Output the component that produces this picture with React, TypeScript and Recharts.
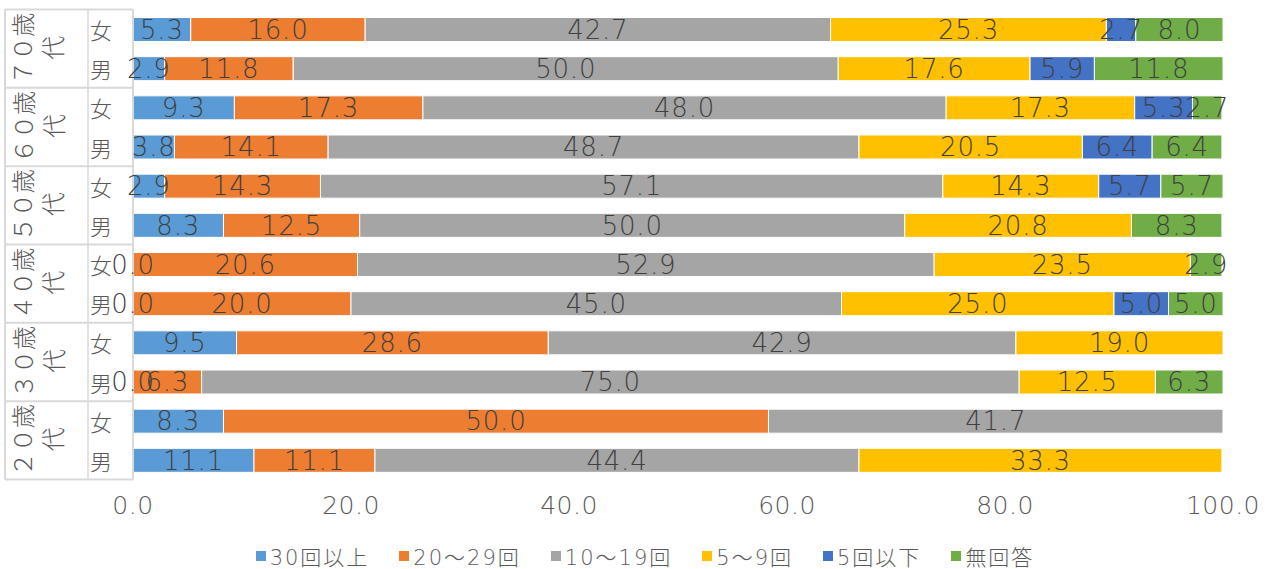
import React from 'react';
import { BarChart, Bar, XAxis, YAxis, LabelList, Legend } from 'recharts';

const ageGroups = ['７０歳代', '６０歳代', '５０歳代', '４０歳代', '３０歳代', '２０歳代'];
const genders = ['女', '男'];
const seriesNames = ['30回以上', '20～29回', '10～19回', '5～9回', '5回以下', '無回答'];
const seriesColors = ['#5B9BD5', '#ED7D31', '#A5A5A5', '#FFC000', '#4472C4', '#70AD47'];
const xTicks = [0, 20, 40, 60, 80, 100];

// rows top to bottom: 70女, 70男, 60女, 60男, ... 20女, 20男
const s30plus = [5.3, 2.9, 9.3, 3.8, 2.9, 8.3, 0.0, 0.0, 9.5, 0.0, 8.3, 11.1];
const s20to29 = [16.0, 11.8, 17.3, 14.1, 14.3, 12.5, 20.6, 20.0, 28.6, 6.3, 50.0, 11.1];
const s10to19 = [42.7, 50.0, 48.0, 48.7, 57.1, 50.0, 52.9, 45.0, 42.9, 75.0, 41.7, 44.4];
const s5to9 = [25.3, 17.6, 17.3, 20.5, 14.3, 20.8, 23.5, 25.0, 19.0, 12.5, null, 33.3];
const sUnder5 = [2.7, 5.9, 5.3, 6.4, 5.7, null, null, 5.0, null, null, null, null];
const sNoAnswer = [8.0, 11.8, 2.7, 6.4, 5.7, 8.3, 2.9, 5.0, null, 6.3, null, null];

const seriesValues = [s30plus, s20to29, s10to19, s5to9, sUnder5, sNoAnswer];

const rows: any[] = [];
ageGroups.forEach((age, gi) => {
  genders.forEach((g, j) => {
    const i = gi * 2 + j;
    const row: any = { key: `${age}|${g}` };
    seriesNames.forEach((name, k) => {
      row[`s${k}`] = seriesValues[k][i];
    });
    rows.push(row);
  });
});

const W = 1274;
const H = 569;
const M_TOP = 9.5;
const M_BOTTOM = 49.5;
const X_AXIS_H = 40;
const Y_AXIS_W = 133;
const PLOT_H = H - M_TOP - M_BOTTOM - X_AXIS_H;
const BAND = PLOT_H / rows.length;

const FONT = "'DejaVu Sans', 'Noto Sans CJK JP', sans-serif";
const LINE = '#D9D9D9';
const TXT = '#595959';

const GenderTick = (props: any) => {
  const { y, payload, index } = props;
  const [age, gender] = String(payload.value).split('|');
  const items: any[] = [];
  items.push(
    <text key="g" x={101} y={y} textAnchor="middle" dominantBaseline="central" fontSize={22} fill={TXT}
      fontFamily="'Noto Sans CJK JP', sans-serif" fontWeight={300}>
      {gender}
    </text>
  );
  if (gender === '女') {
    const top = y - BAND / 2;
    const bottom = y + BAND * 1.5;
    const cy = (top + bottom) / 2;
    const l1 = age.slice(0, 3);
    const l2 = age.slice(3);
    items.push(<line key="t" x1={5} x2={Y_AXIS_W} y1={top} y2={top} stroke={LINE} strokeWidth={2} />);
    items.push(<line key="l" x1={5} x2={5} y1={top} y2={bottom} stroke={LINE} strokeWidth={2} />);
    items.push(<line key="m" x1={88} x2={88} y1={top} y2={bottom} stroke={LINE} strokeWidth={1.5} />);
    if (index === rows.length - 2) {
      items.push(<line key="b" x1={5} x2={Y_AXIS_W} y1={bottom} y2={bottom} stroke={LINE} strokeWidth={2} />);
    }
    items.push(
      <text key="a1" x={22} y={cy} textAnchor="middle" dominantBaseline="central" fontSize={24} fill={TXT}
        fontFamily="'Noto Sans CJK JP', sans-serif" fontWeight={300} transform={`rotate(-90 22 ${cy})`}>
        {l1}
      </text>
    );
    items.push(
      <text key="a2" x={52} y={cy - 1} textAnchor="middle" dominantBaseline="central" fontSize={24} fill={TXT}
        fontFamily="'Noto Sans CJK JP', sans-serif" fontWeight={300} transform={`rotate(-90 52 ${cy - 1})`}>
        {l2}
      </text>
    );
  }
  return <g>{items}</g>;
};

const LegendContent = () => (
  <div style={{ display: 'flex', justifyContent: 'center', alignItems: 'center', gap: 30, fontFamily: FONT, fontSize: 21, color: TXT, letterSpacing: 2, fontWeight: 200, paddingLeft: 16 }}>
    {seriesNames.map((n, i) => (
      <div key={n} style={{ display: 'flex', alignItems: 'center' }}>
        <span style={{ display: 'inline-block', width: 10, height: 10, background: seriesColors[i], marginRight: 4 }} />
        <span>{n}</span>
      </div>
    ))}
  </div>
);

const fmt = (v: any) => (v === null || v === undefined ? '' : Number(v).toFixed(1));

export default function App() {
  return (
    <div style={{ position: 'absolute', left: 0, top: 0, width: W, height: H, background: '#fff' }}>
      <BarChart
        width={W}
        height={H}
        data={rows}
        layout="vertical"
        margin={{ top: M_TOP, right: 51, bottom: M_BOTTOM, left: 0 }}
        barSize={24}
      >
        <XAxis
          type="number"
          domain={[0, 100]}
          ticks={xTicks}
          tickFormatter={(v: number) => v.toFixed(1)}
          axisLine={false}
          tickLine={false}
          tickSize={0}
          tickMargin={17}
          height={X_AXIS_H}
          tick={{ fill: TXT, fontSize: 25, fontFamily: FONT, letterSpacing: 0.5, fontWeight: 200 }}
          allowDataOverflow
        />
        <YAxis
          type="category"
          dataKey="key"
          width={Y_AXIS_W}
          interval={0}
          tickLine={false}
          axisLine={{ stroke: LINE, strokeWidth: 2 }}
          tick={<GenderTick />}
        />
        <Legend
          layout="horizontal"
          verticalAlign="middle"
          align="center"
          content={<LegendContent />}
          wrapperStyle={{ position: 'absolute', top: 541, left: 0, width: W }}
        />
        {seriesNames.map((name, k) => (
          <Bar
            key={name}
            dataKey={`s${k}`}
            name={name}
            stackId="a"
            fill={seriesColors[k]}
            stroke="#ffffff"
            strokeWidth={1}
            isAnimationActive={false}
            minPointSize={k === 0 ? ((v: any) => (v === 0 ? 0.01 : 0)) as any : 0}
          >
            <LabelList
              dataKey={`s${k}`}
              position="center"
              formatter={fmt}
              fill="#404040"
              fontSize={26}
              fontFamily={FONT}
              fontWeight={200}
              letterSpacing={0.8}
            />
          </Bar>
        ))}
      </BarChart>
    </div>
  );
}
